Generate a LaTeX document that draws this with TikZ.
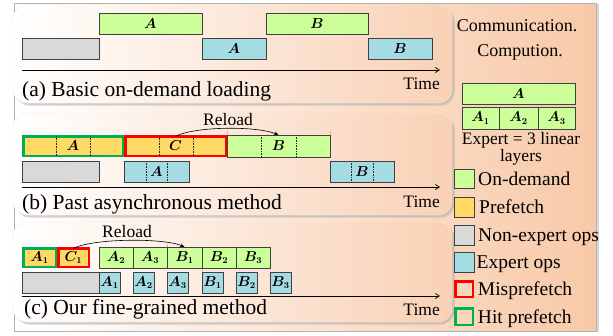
\documentclass[tikz,border=0pt]{standalone}
\usepackage{fontspec}
\setmainfont{Liberation Serif}
\usepackage{amsmath,bm}
\usetikzlibrary{arrows.meta,positioning,shadows}

\definecolor{ondemcol}{HTML}{CCFF99}
\definecolor{prefcol}{HTML}{FFD966}
\definecolor{nonexpcol}{HTML}{D9D9D9}
\definecolor{expcol}{HTML}{A5DCE4}
\definecolor{misscol}{HTML}{FF0000}
\definecolor{hitcol}{HTML}{00B050}
\definecolor{peach}{HTML}{F8C9A8}

\begin{document}
\begin{tikzpicture}[x=1pt, y=-1pt,
  bar/.style={draw=black!75, line width=0.6pt, inner sep=0pt, outer sep=0pt, anchor=north west, minimum height=21.5pt, font=\fontsize{13.5}{13.5}\selectfont},
  ondem/.style={bar, fill=ondemcol},
  prefbox/.style={bar, fill=prefcol},
  nonexp/.style={bar, fill=nonexpcol},
  expop/.style={bar, fill=expcol},
  hitbox/.style={bar, fill=prefcol, draw=hitcol, line width=2.5pt},
  missbox/.style={bar, fill=prefcol, draw=misscol, line width=2.5pt},
  divider/.style={densely dotted, line width=0.6pt, black!85},
  timeax/.style={-{Straight Barb[length=4pt,width=5pt]}, line width=0.7pt},
  reload/.style={-{Stealth[length=4.5pt,width=3.5pt]}, line width=0.6pt},
  tick/.style={orange!60, line width=0.6pt},
  panel/.style={rounded corners=14pt, draw=black!8, left color=white, right color=peach!85,
    drop shadow={shadow xshift=2.5pt, shadow yshift=-2.5pt, fill=black!35, opacity=.5}},
  caption/.style={font=\fontsize{21.5}{22}\selectfont, inner sep=0pt, anchor=base west},
  timelbl/.style={font=\fontsize{17.5}{18}\selectfont, inner sep=0pt, anchor=base east},
  smalltxt/.style={font=\fontsize{17.5}{18}\selectfont, inner sep=0pt, anchor=base},
  legtxt/.style={font=\fontsize{19.5}{20}\selectfont, inner sep=0pt, text height=13pt, text depth=0pt}]
\useasboundingbox (0,0) rectangle (613,335);

% background and panels
\draw[draw=black!30, left color=white, right color=peach,
  drop shadow={shadow xshift=3pt, shadow yshift=-1pt, fill=black!30, opacity=.5}] (14,3) rectangle (596,331);
\draw[panel] (13,5) rectangle (452,103);
\draw[panel] (13,113) rectangle (452,215);
\draw[panel] (13,222) rectangle (452,322);

% (a) basic on-demand loading
\node[ondem, minimum width=103pt] (a1) at (99,13) {$\bm{A}$};
\node[ondem, minimum width=102pt] (a2) at (266,13) {$\bm{B}$};
\node[nonexp, minimum width=77pt] (a3) at (22,38) {};
\node[expop, minimum width=64pt] (a4) at (202,38) {$\bm{A}$};
\node[expop, minimum width=64pt] (a5) at (368,38) {$\bm{B}$};
\coordinate (ta0) at (22,70);
\coordinate (ta1) at (440,70);
\draw[timeax] (ta0) -- (ta1);
\node[timelbl] (tla) at (440,89) {Time};
\node[caption] (capa) at (22,96) {(a) Basic on-demand loading};

% (b) past asynchronous method
\node[hitbox, minimum width=99.5pt, minimum height=19.5pt] (b1) at (23.25,136.25) {$\bm{A}$};
\node[missbox, minimum width=100.5pt, minimum height=19.5pt] (b2) at (125.25,136.25) {$\bm{C}$};
\node[ondem, minimum width=103pt, minimum height=22pt] (b3) at (227,135) {$\bm{B}$};
\node[nonexp, minimum width=77pt] (b4) at (22,161) {};
\node[expop, minimum width=65pt] (b5) at (124,161) {$\bm{A}$};
\node[expop, minimum width=64pt] (b6) at (330,161) {$\bm{B}$};
\foreach \n/\d in {b1/33, b1/67, b2/34, b2/68} {
  \draw[divider] ([xshift=\d pt]\n.north west) -- ([xshift=\d pt]\n.south west);
}
\foreach \n/\d in {b3/34.5, b3/69, b5/22, b5/43, b6/21.5, b6/43} {
  \draw[divider] ([xshift=\d pt]\n.north west) -- ([xshift=\d pt]\n.south west);
}
\draw[tick] (b3.north west) -- ++(0,-4);
\draw[tick] (b3.north east) -- ++(0,-4);
\draw[reload] (b2.north) .. controls (196,126) and (258,126) .. (b3.north);
\node[smalltxt] (rlb) at (228,125) {Reload};
\coordinate (tb0) at (22,187);
\coordinate (tb1) at (440,187);
\draw[timeax] (tb0) -- (tb1);
\node[timelbl] (tlb) at (440,207) {Time};
\node[caption] (capb) at (22,209) {(b) Past asynchronous method};

% (c) our fine-grained method
\node[hitbox, minimum width=32.5pt, minimum height=18.5pt] (c1) at (23.25,248.25) {$\bm{A_1}$};
\node[missbox, minimum width=30.5pt, minimum height=18.5pt] (c2) at (58.25,248.25) {$\bm{C_1}$};
\node[ondem, minimum width=34pt] (c3) at (99,247) {$\bm{A_2}$};
\node[ondem, minimum width=34pt, right=0pt of c3] (c4) {$\bm{A_3}$};
\node[ondem, minimum width=35pt, right=0pt of c4] (c5) {$\bm{B_1}$};
\node[ondem, minimum width=34pt, right=0pt of c5] (c6) {$\bm{B_2}$};
\node[ondem, minimum width=34pt, right=0pt of c6] (c7) {$\bm{B_3}$};
\node[nonexp, minimum width=77pt] (c8) at (22,272) {};
\node[expop, minimum width=21pt] (e1) at (99,272) {$\bm{A_1}$};
\node[expop, minimum width=21pt] (e2) at (133,272) {$\bm{A_2}$};
\node[expop, minimum width=21pt] (e3) at (167,272) {$\bm{A_3}$};
\node[expop, minimum width=21pt] (e4) at (202,272) {$\bm{B_1}$};
\node[expop, minimum width=21pt] (e5) at (236,272) {$\bm{B_2}$};
\node[expop, minimum width=21pt] (e6) at (270,272) {$\bm{B_3}$};
\draw[tick] (c5.north west) -- ++(0,-3);
\draw[tick] (c6.south west) -- ++(0,3);
\draw[reload] (c2.north) .. controls (95,238) and (165,238) .. (c5.north);
\node[smalltxt] (rlc) at (127,237) {Reload};
\coordinate (tc0) at (22,296);
\coordinate (tc1) at (440,296);
\draw[timeax] (tc0) -- (tc1);
\node[timelbl] (tlc) at (440,315) {Time};
\node[caption] (capc) at (24,314) {(c) Our fine-grained method};

% legend
\node[font=\fontsize{18}{18}\selectfont, inner sep=0pt, anchor=base] (comm) at (517,31) {Communication.};
\node[font=\fontsize{18}{18}\selectfont, inner sep=0pt, anchor=base] (cmpt) at (520,56) {Compution.};
\node[ondem, minimum width=113pt, minimum height=21pt] (ex) at (462,83) {$\bm{A}$};
\node[ondem, minimum width=37pt, minimum height=22pt] (ex1) at (462,107) {$\bm{A_1}$};
\node[ondem, minimum width=39pt, minimum height=22pt, right=0pt of ex1] (ex2) {$\bm{A_2}$};
\node[ondem, minimum width=37pt, minimum height=22pt, right=0pt of ex2] (ex3) {$\bm{A_3}$};
\node[font=\fontsize{17.5}{14}\selectfont, inner sep=0pt, align=center, anchor=north] (exn) at (521,132) {Expert = 3 linear\\layers};

\node[ondem, minimum width=20pt, minimum height=19pt] (lg1) at (454,169) {};
\node[legtxt, right=4pt of lg1] (lt1) {On-demand};
\node[prefbox, minimum width=20pt, minimum height=20pt] (lg2) at (454,197) {};
\node[legtxt, right=5pt of lg2] (lt2) {Prefetch};
\node[nonexp, minimum width=20pt, minimum height=20pt] (lg3) at (454,225) {};
\node[legtxt, right=4pt of lg3] (lt3) {Non-expert ops};
\node[expop, minimum width=20pt, minimum height=20pt] (lg4) at (454,252) {};
\node[legtxt, right=2.5pt of lg4] (lt4) {Expert ops};
\node[bar, draw=misscol, line width=2.5pt, minimum width=17.5pt, minimum height=15.5pt] (lg5) at (455.25,281.25) {};
\node[legtxt, right=5pt of lg5] (lt5) {Misprefetch};
\node[bar, draw=hitcol, line width=2.5pt, minimum width=17.5pt, minimum height=16.5pt] (lg6) at (455.25,308.25) {};
\node[legtxt, right=5pt of lg6] (lt6) {Hit prefetch};
\end{tikzpicture}
\end{document}
